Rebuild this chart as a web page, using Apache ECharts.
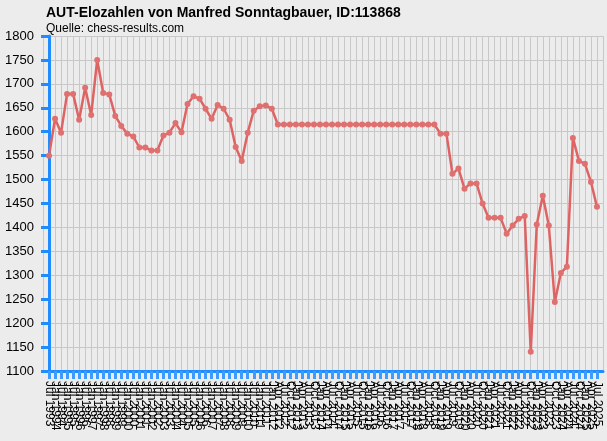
<!DOCTYPE html>
<html>
<head>
<meta charset="utf-8">
<script src="https://cdn.jsdelivr.net/npm/echarts@6/dist/echarts.min.js"></script>
<style>
  html, body { margin: 0; padding: 0; background: #ececec; }
  #elo { width: 607px; height: 441px; }
</style>
</head>
<body>
<div id="elo"></div>
<script>
// 日期 (x轴标签)
const dates = [
  'Jul 1993',
  'Jan 1994', 'Jul 1994', 'Jan 1995', 'Jul 1995', 'Jan 1996', 'Jul 1996',
  'Jan 1997', 'Jul 1997', 'Jan 1998', 'Jul 1998', 'Jan 1999', 'Jul 1999',
  'Jan 2000', 'Jul 2000', 'Jan 2001', 'Jul 2001', 'Jan 2002', 'Jul 2002',
  'Jan 2003', 'Jul 2003', 'Jan 2004', 'Jul 2004', 'Jan 2005', 'Jul 2005',
  'Jan 2006', 'Jul 2006', 'Jan 2007', 'Jul 2007', 'Jan 2008', 'Jul 2008',
  'Jan 2009', 'Jul 2009', 'Jan 2010', 'Jul 2010', 'Jan 2011', 'Jul 2011',
  'Jan 2012',
  'Apr 2012', 'Jul 2012', 'Oct 2012',
  'Jan 2013', 'Apr 2013', 'Jul 2013', 'Oct 2013',
  'Jan 2014', 'Apr 2014', 'Jul 2014', 'Oct 2014',
  'Jan 2015', 'Apr 2015', 'Jul 2015', 'Oct 2015',
  'Jan 2016', 'Apr 2016', 'Jul 2016', 'Oct 2016',
  'Jan 2017', 'Apr 2017', 'Jul 2017', 'Oct 2017',
  'Jan 2018', 'Apr 2018', 'Jul 2018', 'Oct 2018',
  'Jan 2019', 'Apr 2019', 'Jul 2019', 'Oct 2019',
  'Jan 2020', 'Apr 2020', 'Jul 2020', 'Oct 2020',
  'Jan 2021', 'Apr 2021', 'Jul 2021', 'Oct 2021',
  'Jan 2022', 'Apr 2022', 'Jul 2022', 'Oct 2022',
  'Jan 2023', 'Apr 2023', 'Jul 2023', 'Oct 2023',
  'Jan 2024', 'Apr 2024', 'Jul 2024', 'Oct 2024',
  'Jan 2025', 'Apr 2025', 'Jul 2025'
]

// Elo 数值
const elo = [
  1550, 1627, 1598, 1679, 1679, 1625, 1692, 1635, 1750, 1681,
  1678, 1633, 1612, 1596, 1590, 1567, 1567, 1561, 1561, 1592,
  1598, 1618, 1599, 1658, 1674, 1669, 1648, 1627, 1656, 1648,
  1625, 1568, 1539, 1598, 1644, 1653, 1655, 1648,
  1615, 1615, 1615, 1615, 1615, 1615, 1615, 1615, 1615, 1615,
  1615, 1615, 1615, 1615, 1615, 1615, 1615, 1615, 1615, 1615,
  1615, 1615, 1615, 1615, 1615, 1615, 1615,
  1596, 1596, 1512, 1523, 1481, 1492, 1492, 1450, 1420, 1420,
  1420, 1387, 1404, 1418, 1424, 1140, 1406, 1466, 1404, 1244,
  1305, 1318, 1587, 1539, 1533, 1495, 1443
]

// y轴刻度
const yTicks = { min: 1100, max: 1800, step: 50 }

const renderElo = () => {
  // 1. 初始化实例
  const myChart = echarts.init(document.querySelector('#elo'))
  const blue = '#1e8cff'
  // 2. 配置项
  const option = {
    backgroundColor: '#ececec',
    animation: false,
    title: {
      text: 'AUT-Elozahlen von Manfred Sonntagbauer, ID:113868',
      subtext: 'Quelle: chess-results.com',
      left: 41,
      top: 1,
      itemGap: 3,
      textStyle: {
        fontFamily: 'Liberation Sans, Arial, sans-serif',
        fontSize: 14,
        fontWeight: 'bold',
        color: '#000'
      },
      subtextStyle: {
        fontFamily: 'Liberation Sans, Arial, sans-serif',
        fontSize: 12,
        color: '#000'
      }
    },
    grid: {
      left: 43,
      right: 4,
      top: 36,
      bottom: 70,
      outerBoundsMode: 'none'
    },
    xAxis: {
      type: 'value',
      min: -1,
      max: dates.length,
      interval: 1,
      axisLine: {
        onZero: false,
        lineStyle: { color: blue, width: 3 }
      },
      axisTick: {
        length: 8,
        lineStyle: { color: '#3d9bff', width: 3 }
      },
      splitLine: {
        lineStyle: { color: '#c8c8c8', width: 1 }
      },
      axisLabel: {
        rotate: -90,
        fontSize: 12,
        margin: 10,
        color: '#000',
        fontFamily: 'Liberation Sans, Arial, sans-serif',
        showMinLabel: false,
        showMaxLabel: false,
        formatter: (v) => dates[v] || ''
      }
    },
    yAxis: {
      type: 'value',
      min: yTicks.min,
      max: yTicks.max,
      interval: yTicks.step,
      axisLine: {
        show: true,
        lineStyle: { color: blue, width: 3 }
      },
      axisTick: {
        show: true,
        length: 8,
        lineStyle: { color: blue, width: 3 }
      },
      splitLine: {
        lineStyle: { color: '#c8c8c8', width: 1 }
      },
      axisLabel: {
        fontSize: 13,
        margin: 9,
        color: '#000',
        fontFamily: 'Liberation Sans, Arial, sans-serif',
        formatter: (v) => String(v)
      }
    },
    series: [
      {
        type: 'line',
        data: elo.map((v, i) => [i, v]),
        symbol: 'circle',
        symbolSize: 6,
        lineStyle: { color: '#de6464', width: 2.5 },
        itemStyle: { color: '#e07070' }
      }
    ]
  }
  // 3. 使用配置项
  myChart.setOption(option)
}
renderElo()
</script>
</body>
</html>
